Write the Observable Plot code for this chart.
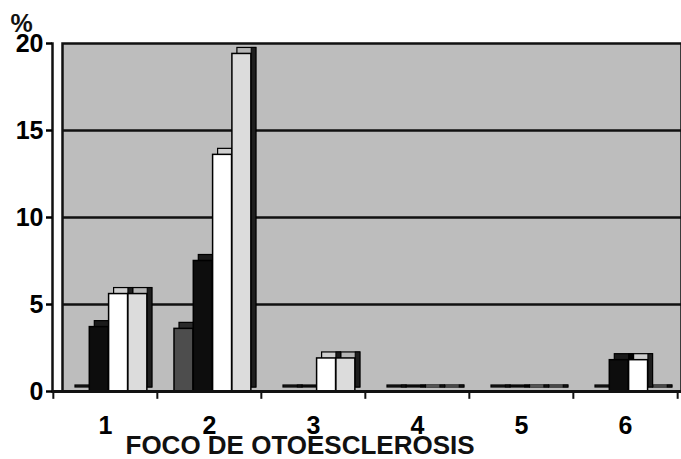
<!DOCTYPE html>
<html>
<head>
<meta charset="utf-8">
<script src="https://cdn.jsdelivr.net/npm/d3@7"></script>
<script src="https://cdn.jsdelivr.net/npm/@observablehq/plot@0.6"></script>
<style>
  body { margin: 0; background: #fff; }
  svg { display: block; }
</style>
</head>
<body>
<div id="chart"></div>
<script>
const categories = ["1", "2", "3", "4", "5", "6"];
const yTicks = [0, 5, 10, 15, 20];
const serieA = [0, 3.6, 0, 0, 0, 0];        // dark grey
const serieB = [3.7, 7.5, 0, 0, 0, 1.8];    // black
const serieC = [5.6, 13.6, 1.9, 0, 0, 1.8]; // white
const serieD = [5.6, 19.4, 1.9, 0, 0, 0];   // light grey
const xTitle = "FOCO DE OTOESCLEROSIS";
const yTitle = "%";

const W = 681, H = 459;
const left = 52, right = 678;
const bw = (right - left) / categories.length;
const barW = 19.3;
const slots = [17, 17 + barW, 17 + 2 * barW, 17 + 3 * barW];
const depth = 5;
const font = "Liberation Sans, Arial, Helvetica, sans-serif";

const seriesList = [
  {values: serieA, fill: "#4d4d4d", top: "#2a2a2a", side: "#1a1a1a"},
  {values: serieB, fill: "#0d0d0d", top: "#1a1a1a", side: "#000"},
  {values: serieC, fill: "#ffffff", top: "#cfcfcf", side: "#1e1e1e"},
  {values: serieD, fill: "#dcdcdc", top: "#b5b5b5", side: "#1e1e1e"}
];

const barMarks = seriesList.flatMap((s, i) => {
  const data = categories.map((c, j) => ({c, v: s.values[j]}));
  const front = {x: "c", y: "v", insetLeft: slots[i], insetRight: bw - slots[i] - barW};
  const side = {x: "c", y: "v", insetLeft: slots[i] + barW, insetRight: bw - slots[i] - barW - depth};
  return [
    // top face (offset copy of the front face)
    Plot.barY(data, {...front, dx: depth, dy: -depth, insetTop: -1, insetBottom: -1, fill: s.top, stroke: "#000", strokeWidth: 1.2}),
    // right side face
    Plot.barY(data, {...side, dy: -depth, insetTop: -1, insetBottom: -1, fill: s.side, stroke: "#000", strokeWidth: 1}),
    // front face
    Plot.barY(data, {...front, fill: s.fill, stroke: "#000", strokeWidth: 1.5})
  ];
});

const chart = Plot.plot({
  width: W,
  height: H,
  marginLeft: left,
  marginRight: 0,
  marginTop: 43,
  marginBottom: 68,
  style: {fontFamily: font, background: "#fff", overflow: "visible"},
  x: {domain: categories, range: [left, right], padding: 0},
  y: {domain: [0, 20]},
  marks: [
    Plot.frame({fill: "#bdbdbd", stroke: "#111", strokeWidth: 2.5, insetLeft: 10}),
    Plot.ruleY([5, 10, 15], {stroke: "#111", strokeWidth: 2.5, insetLeft: 10}),
    Plot.frame({anchor: "left", stroke: "#111", strokeWidth: 2.5}),
    ...barMarks,
    Plot.ruleY([0], {stroke: "#111", strokeWidth: 3}),
    Plot.ruleX(categories, {x: d => d, dx: -bw / 2, y1: 0, y2: -0.45, stroke: "#111", strokeWidth: 2}),
    Plot.ruleX(categories.slice(-1), {x: d => d, dx: bw / 2, y1: 0, y2: -0.45, stroke: "#111", strokeWidth: 2}),
    Plot.axisY({ticks: yTicks, tickSize: 6, tickPadding: 3, fontSize: 25, fontWeight: "bold", label: null, strokeWidth: 2.5}),
    Plot.axisX({tickSize: 0, tickPadding: 25, fontSize: 25, fontWeight: "bold", label: null}),
    Plot.text([yTitle], {text: d => d, frameAnchor: "top-left", dx: -42, dy: -20, lineAnchor: "middle", textAnchor: "start", fontSize: 25, fontWeight: "bold", fill: "#111"}),
    Plot.text([xTitle], {text: d => d, frameAnchor: "bottom-left", dx: 73, dy: 54, lineAnchor: "middle", textAnchor: "start", fontSize: 26, fontWeight: "bold", fill: "#111"})
  ]
});
document.getElementById("chart").appendChild(chart);
</script>
</body>
</html>
